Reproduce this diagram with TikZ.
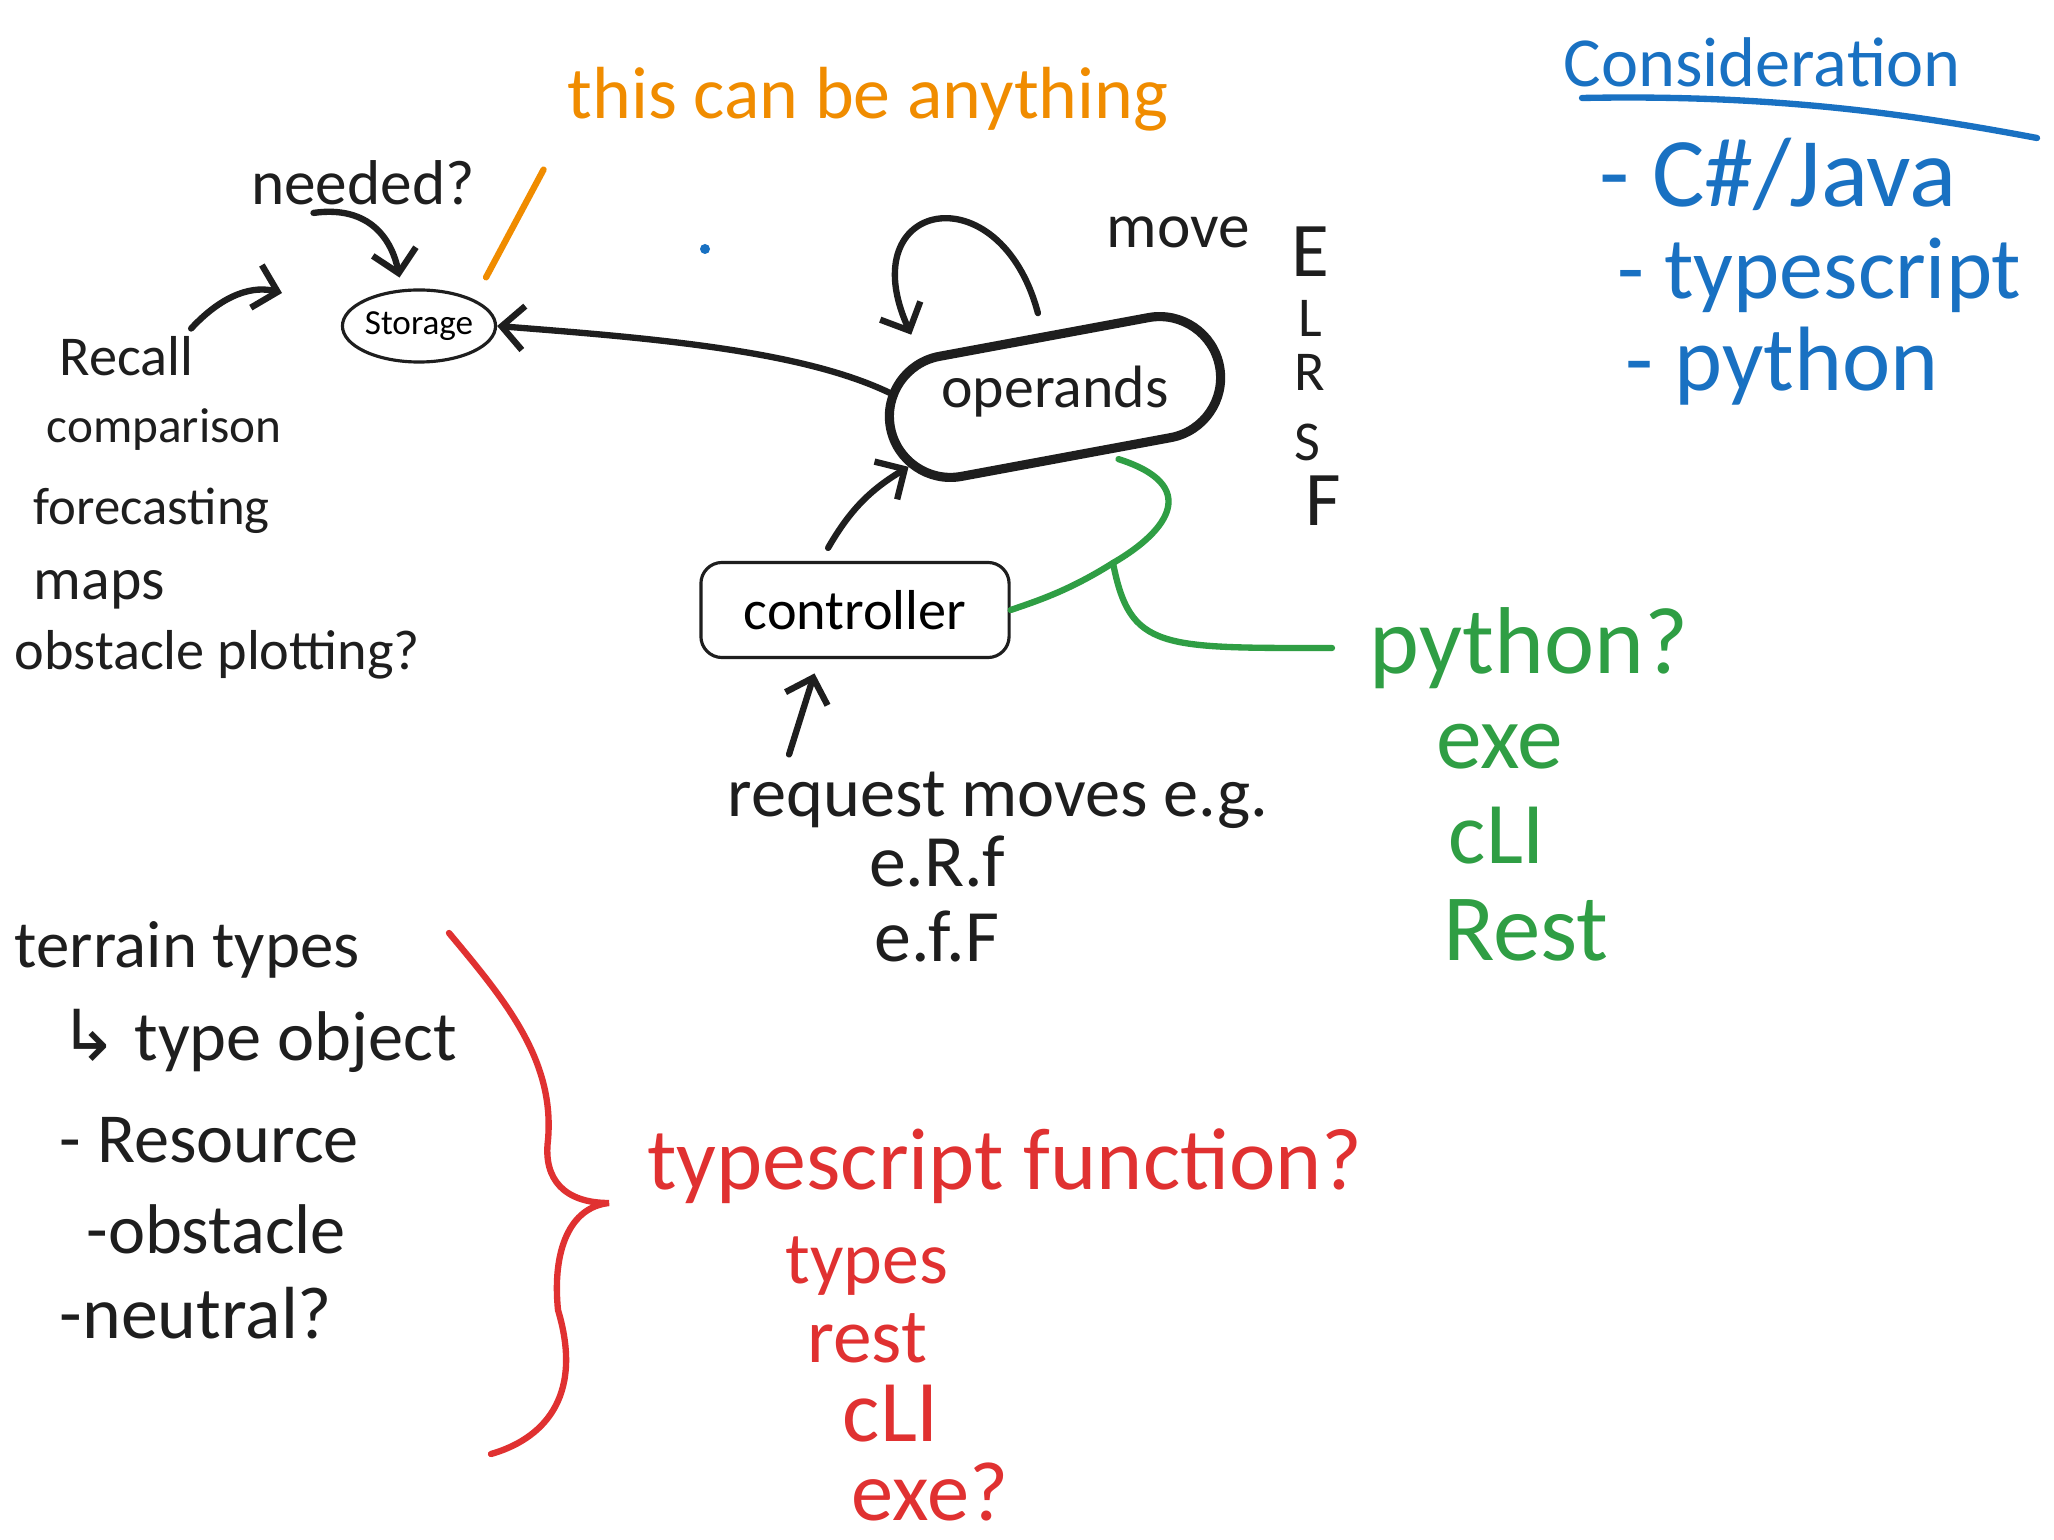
\documentclass[tikz,border=0pt]{standalone}
\usepackage{fontspec}
\setmainfont{Carlito}
\newfontfamily\arrowfont{DejaVu Sans}
\usepackage{xcolor}
\usepackage{tikz}
\usetikzlibrary{shapes.geometric, shapes.misc, arrows.meta}

\definecolor{inkblack}{HTML}{1E1E1E}
\definecolor{inkblue}{HTML}{1971C2}
\definecolor{inkorange}{HTML}{F08C00}
\definecolor{inkgreen}{HTML}{2F9E44}
\definecolor{inkred}{HTML}{E03131}

\newcommand{\handsize}[1]{\fontsize{#1}{#1}\selectfont}

\tikzset{
    >={Straight Barb[length=2.2mm, width=4.4mm]},
    hand/.style={inner sep=2pt, text=inkblack},
    letter/.style={inner sep=1pt, text=inkblack},
    inkline/.style={draw=inkblack, line width=1.8pt, line cap=round, line join=round},
    greenline/.style={draw=inkgreen, line width=1.8pt, line cap=round},
    redline/.style={draw=inkred, line width=1.8pt, line cap=round},
    blueline/.style={draw=inkblue, line width=1.8pt, line cap=round},
    orangeline/.style={draw=inkorange, line width=1.8pt, line cap=round},
    storagebox/.style={draw=inkblack, ellipse, line width=0.9pt, minimum width=1.26cm,
        minimum height=0.72cm, inner sep=0pt, font=\handsize{10}},
    opblob/.style={draw=inkblack, rounded rectangle, line width=2.6pt, minimum width=3.58cm,
        minimum height=1.22cm, rotate=10.5},
    ctrlbox/.style={draw=inkblack, rounded corners=6pt, line width=0.9pt, minimum width=3.08cm,
        minimum height=0.95cm, font=\handsize{16}},
}

\begin{document}
\begin{tikzpicture}[x=0.01cm, y=-0.01cm]
    \fill[white] (0,0) rectangle (2054,1540);
    \useasboundingbox (0,0) rectangle (2054,1540);

    % consideration list
    \node[hand, text=inkblue, font=\handsize{20}] (consid) at (1762,62) {Consideration};
    \draw[blueline] (1582,98) .. controls (1780,94) and (1920,116) .. (2037,138);
    \node[hand, text=inkblue, font=\handsize{28}, anchor=west] (cjava) at (1592,174) {- C\#/Java};
    \node[hand, text=inkblue, font=\handsize{25}, anchor=west] (tscript) at (1610,275) {- typescript};
    \node[hand, text=inkblue, font=\handsize{26}, anchor=west] (pyth) at (1618,366) {- python};
    \fill[inkblue] (705,249) circle (5);

    % storage and operands
    \node[hand, text=inkorange, font=\handsize{21}] (anything) at (868,99) {this can be anything};
    \node[hand, font=\handsize{18}] (needed) at (363,183) {needed?};
    \node[storagebox] (storage) at (419,326) {Storage};
    \node[opblob] (operands) at (1055,397) {};
    \node[hand, font=\handsize{17}] (operandstxt) at (1055,392) {operands};
    \node[hand, font=\handsize{18}] (move) at (1178,232) {move};
    \node[letter, font=\handsize{22}] (mvE) at (1310,252) {E};
    \node[letter, font=\handsize{16}] (mvL) at (1310,318) {L};
    \node[letter, font=\handsize{16}] (mvR) at (1310,372) {R};
    \node[letter, font=\handsize{16}] (mvS) at (1307,442) {S};
    \node[letter, font=\handsize{22}] (mvF) at (1323,501) {F};

    \draw[orangeline, shorten <=0.25cm, shorten >=0.35cm] (storage.north east) -- (anything.south west);
    \draw[inkline, ->, shorten >=0.12cm] ([xshift=0.7cm]needed.south west)
        .. controls (370,205) and (392,240) .. (storage.115);
    \draw[inkline, ->] (operands.168) .. controls (800,350) and (650,338) .. (storage.east);
    \draw[inkline, ->, shorten <=0.2cm, shorten >=0.25cm] (operands.north)
        .. controls (1000,170) and (850,200) .. (operands.153);

    % left list
    \node[hand, font=\handsize{16}, anchor=west] (recall) at (52,356) {Recall};
    \node[hand, font=\handsize{14}, anchor=west] (comparison) at (39,430) {comparison};
    \node[hand, font=\handsize{15}, anchor=west] (forecasting) at (26,511) {forecasting};
    \node[hand, font=\handsize{17}, anchor=west] (maps) at (26,590) {maps};
    \node[hand, font=\handsize{16}, anchor=west] (plotting) at (7,655) {obstacle plotting?};
    \coordinate (recallend) at (282,293);
    \draw[inkline, ->] ([xshift=-0.1cm]recall.north east) .. controls (225,292) and (255,286) .. (recallend);

    % controller
    \node[ctrlbox] (controller) at (855,610) {controller};
    \node[hand, font=\handsize{20}] (request) at (998,800) {request moves e.g.};
    \node[hand, inner sep=0pt, font=\handsize{21}] (eRf) at (937,861) {e.R.f};
    \node[hand, inner sep=0pt, font=\handsize{21}] (efF) at (937,936) {e.f.F};
    \draw[inkline, ->, shorten <=0.15cm] (controller.125) .. controls (850,510) and (870,490) .. (operands.195);
    \draw[inkline, ->, shorten <=0.1cm, shorten >=0.15cm] ([xshift=0.66cm]request.north west)
        -- ([xshift=-0.36cm]controller.south);

    % python branch
    \node[hand, text=inkgreen, font=\handsize{27}, anchor=west] (python) at (1362,648) {python?};
    \node[hand, text=inkgreen, font=\handsize{26}] (gexe) at (1500,747) {exe};
    \node[hand, inner sep=0pt, text=inkgreen, font=\handsize{25}] (gcli) at (1497,836) {cLI};
    \node[hand, inner sep=0pt, text=inkgreen, font=\handsize{27}] (grest) at (1526,930) {Rest};
    \coordinate (fork) at (1113,563);
    \draw[greenline, shorten <=0.15cm] (operands.300) .. controls (1200,485) and (1170,530) .. (fork)
        .. controls (1070,590) and (1040,600) .. (controller.east);
    \draw[greenline, shorten >=0.3cm] (fork) .. controls (1130,650) and (1160,648) .. (python.west);

    % terrain types
    \node[hand, font=\handsize{19}, anchor=west] (terrain) at (7,950) {terrain types};
    \node[hand, font=\handsize{20}, anchor=west] (typeobj) at (52,1041) {{\arrowfont ↳} type object};
    \node[hand, font=\handsize{20}, anchor=west] (resource) at (52,1140) {- Resource};
    \node[hand, font=\handsize{20}, anchor=west] (obstacle) at (79,1229) {-obstacle};
    \node[hand, font=\handsize{21}, anchor=west] (neutral) at (52,1313) {-neutral?};
    \draw[redline] (449,933) .. controls (505,1000) and (555,1060) .. (548,1140)
        .. controls (543,1180) and (565,1203) .. (609,1203)
        .. controls (570,1207) and (552,1250) .. (558,1310)
        .. controls (585,1400) and (540,1440) .. (491,1454);

    % typescript branch
    \node[hand, text=inkred, font=\handsize{25}] (tsfunc) at (1005,1166) {typescript function?};
    \node[hand, inner sep=0pt, text=inkred, font=\handsize{21}] (rtypes) at (867,1266) {types};
    \node[hand, inner sep=0pt, text=inkred, font=\handsize{22}] (rrest) at (867,1338) {rest};
    \node[hand, inner sep=0pt, text=inkred, font=\handsize{25}] (rcli) at (891,1414) {cLI};
    \node[hand, inner sep=0pt, text=inkred, font=\handsize{24}] (rexe) at (930,1492) {exe?};

\end{tikzpicture}
\end{document}
